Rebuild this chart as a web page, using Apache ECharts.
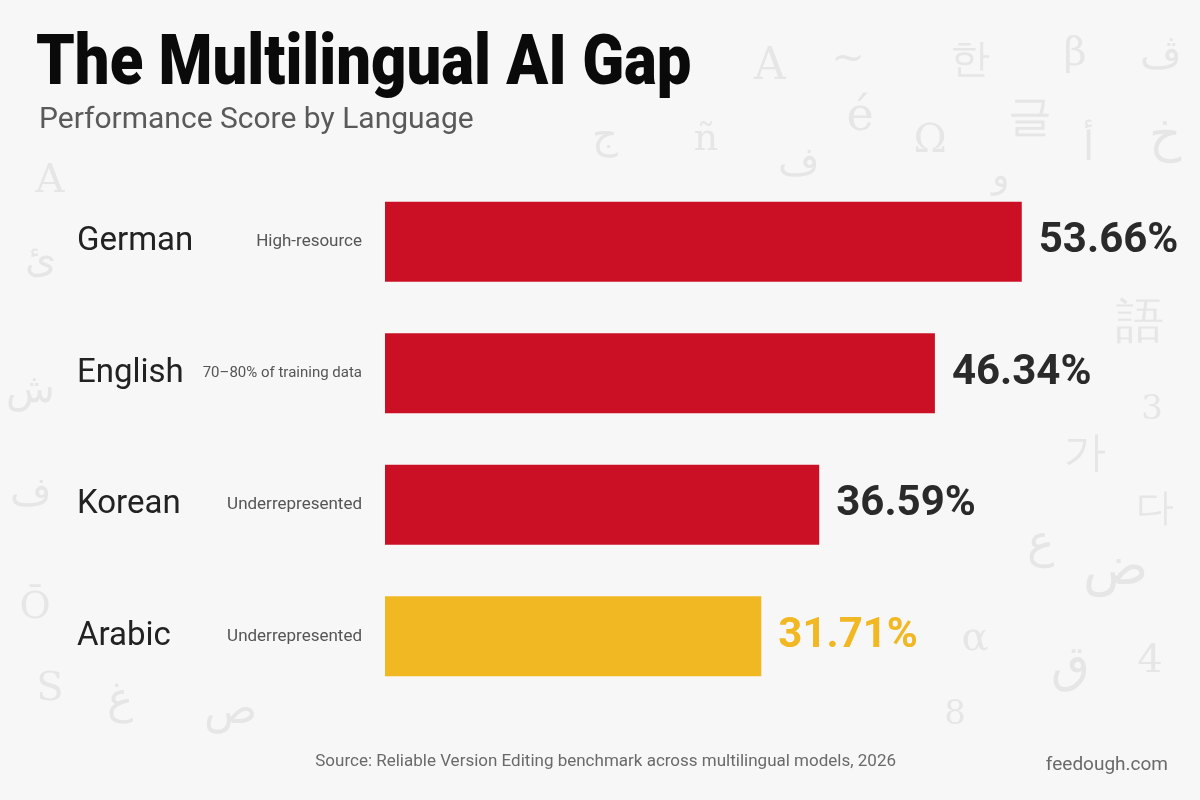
<!DOCTYPE html>
<html>
<head>
<meta charset="utf-8">
<title>The Multilingual AI Gap</title>
<script src="https://cdn.jsdelivr.net/npm/echarts@6/dist/echarts.min.js"></script>
<style>
  html, body { margin: 0; padding: 0; background: #f7f7f7; }
  #chart { width: 1200px; height: 800px; }
</style>
</head>
<body>
<div id="chart"></div>
<script>
const languages = ['German', 'English', 'Korean', 'Arabic'];
const notes = ['High-resource', '70–80% of training data', 'Underrepresented', 'Underrepresented'];
const scores = [53.66, 46.34, 36.59, 31.71];
const highlighted = 'Arabic';

const RED = '#cb1025';
const YELLOW = '#f1b823';

// faint glyphs scattered over the background
const glyphs = [
  ['A', 770, 68, 44], ['~', 848, 60, 40], ['한', 970, 62, 40], ['β', 1075, 55, 40], ['ڤ', 1160, 58, 40],
  ['ج', 605, 138, 40], ['ñ', 706, 140, 38], ['é', 860, 118, 46], ['ف', 798, 165, 40], ['Ω', 930, 142, 40],
  ['글', 1030, 120, 44], ['و', 1000, 178, 36], ['أ', 1088, 150, 40], ['خ', 1165, 138, 50], ['A', 50, 182, 40],
  ['ئ', 40, 262, 40], ['語', 1140, 325, 48], ['ش', 30, 392, 40], ['3', 1152, 410, 34], ['가', 1085, 455, 42],
  ['다', 1155, 510, 38], ['ف', 30, 495, 40], ['ع', 1040, 545, 46], ['ض', 1115, 570, 54], ['Ō', 35, 608, 38],
  ['α', 975, 640, 40], ['ق', 1070, 668, 50], ['4', 1150, 662, 40], ['S', 50, 690, 40], ['غ', 120, 702, 44],
  ['ص', 230, 712, 44], ['8', 955, 715, 34]
];

const chart = echarts.init(document.getElementById('chart'), null, { width: 1200, height: 800 });

chart.setOption({
  backgroundColor: '#f7f7f7',
  animation: false,
  graphic: glyphs.map(([t, x, y, s]) => ({
    type: 'text',
    x: x,
    y: y,
    z: -10,
    silent: true,
    style: {
      text: t,
      fontSize: s,
      fontFamily: 'DejaVu Serif',
      fill: '#e6e6e6',
      align: 'center',
      verticalAlign: 'middle'
    }
  })).concat([
    {
      // title, a bit condensed like the original
      type: 'text',
      x: 36,
      y: 66,
      scaleX: 0.88,
      style: {
        text: 'The Multilingual AI Gap',
        fontFamily: 'Roboto',
        fontSize: 70,
        fontWeight: 900,
        fill: '#0a0a0a',
        verticalAlign: 'middle'
      }
    },
    {
      type: 'text',
      x: 39,
      y: 120,
      style: {
        text: 'Performance Score by Language',
        fontFamily: 'Roboto',
        fontSize: 30,
        fill: '#5a5a5a',
        verticalAlign: 'middle'
      }
    },
    {
      type: 'text',
      x: 896,
      y: 762,
      style: {
        text: 'Source: Reliable Version Editing benchmark across multilingual models, 2026',
        fontFamily: 'Roboto',
        fontSize: 17,
        fill: '#6a6a6a',
        align: 'right',
        verticalAlign: 'middle'
      }
    },
    {
      type: 'text',
      x: 1168,
      y: 765,
      style: {
        text: 'feedough.com',
        fontFamily: 'Roboto',
        fontSize: 19,
        fill: '#6a6a6a',
        align: 'right',
        verticalAlign: 'middle'
      }
    }
  ]),
  grid: {
    left: 385,
    right: 103,
    top: 176,
    height: 526
  },
  xAxis: {
    type: 'value',
    min: 0,
    max: 60,
    show: false
  },
  yAxis: {
    type: 'category',
    inverse: true,
    data: languages,
    axisLine: { show: false },
    axisTick: { show: false },
    axisLabel: {
      margin: 308,
      align: 'left',
      formatter: (value, idx) => {
        const noteStyle = notes[idx].length > 18 ? 'noteSm' : 'note';
        return `{name|${value}}{${noteStyle}|${notes[idx]}}`;
      },
      rich: {
        name: {
          fontFamily: 'Roboto',
          fontSize: 33,
          color: '#222222',
          width: 130,
          verticalAlign: 'middle'
        },
        note: {
          fontFamily: 'Roboto',
          fontSize: 17,
          color: '#555555',
          width: 155,
          align: 'right',
          verticalAlign: 'middle'
        },
        noteSm: {
          fontFamily: 'Roboto',
          fontSize: 15,
          color: '#555555',
          width: 155,
          align: 'right',
          verticalAlign: 'middle'
        }
      }
    }
  },
  series: [
    {
      type: 'bar',
      barWidth: 80,
      data: scores.map((v, i) => ({
        value: v,
        itemStyle: { color: languages[i] === highlighted ? YELLOW : RED },
        label: { color: languages[i] === highlighted ? YELLOW : '#2a2a2a' }
      })),
      label: {
        show: true,
        position: 'right',
        distance: 17,
        fontFamily: 'Roboto',
        fontSize: 42,
        fontWeight: 'bold',
        formatter: p => p.value.toFixed(2) + '%'
      }
    }
  ]
});
</script>
</body>
</html>
